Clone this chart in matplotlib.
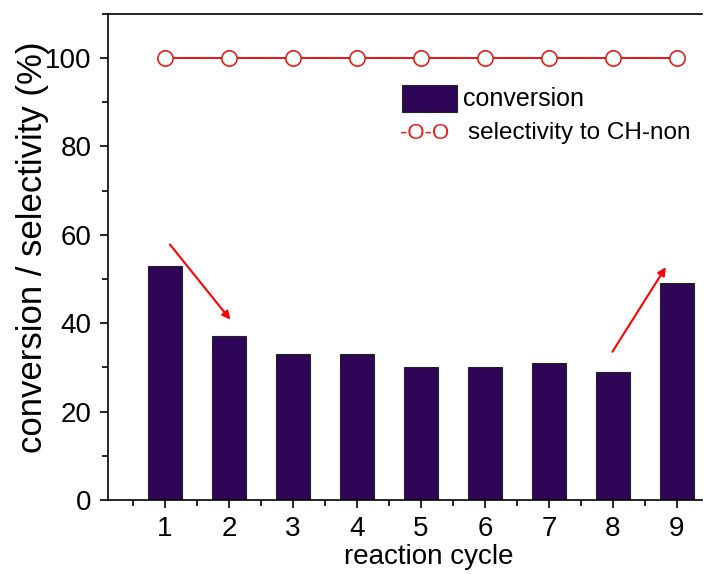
import numpy as np
import matplotlib
matplotlib.use("Agg")
from matplotlib import pyplot as plt
from matplotlib.ticker import MultipleLocator

plt.rcParams['font.family'] = ['Liberation Sans', 'DejaVu Sans']

# data
cycles = [1, 2, 3, 4, 5, 6, 7, 8, 9]
conversion = [53, 37, 33, 33, 30, 30, 31, 29, 49]
selectivity = [100, 100, 100, 100, 100, 100, 100, 100, 100]

BAR_COLOR = '#2f0657'
RED = '#e02020'

fig = plt.figure(figsize=(7.06, 5.74), dpi=100)
ax = fig.add_axes([0.153, 0.129, 0.842, 0.847])

ax.bar(cycles, conversion, width=0.53, color=BAR_COLOR, edgecolor='#222222', linewidth=0.8, zorder=2)
ax.plot(cycles, selectivity, '-o', color=RED, lw=1.5, ms=11, mfc='white', mec=RED, mew=1.2, zorder=3)

# arrows
ax.annotate('', xy=(2.05, 40.3), xytext=(1.05, 58.3),
            arrowprops=dict(arrowstyle='-|>', color='red', lw=1.5, mutation_scale=12))
ax.annotate('', xy=(8.85, 53.2), xytext=(7.97, 33.0),
            arrowprops=dict(arrowstyle='-|>', color='red', lw=1.5, mutation_scale=12))

# legend drawn by hand
ax.add_patch(plt.Rectangle((4.70, 87.8), 0.86, 6.1, facecolor=BAR_COLOR, edgecolor='#222222', lw=0.8, zorder=4))
ax.text(5.65, 90.8, 'conversion', fontsize=18, va='center', ha='left')
ax.text(4.68, 83.0, '-O-O', fontsize=16, va='center', ha='left', color=RED)
ax.text(5.73, 83.0, 'selectivity to CH-non', fontsize=17.5, va='center', ha='left')

ax.set_xlim(0.11, 9.4)
ax.set_ylim(0, 110)
ax.set_xticks(cycles)
ax.set_yticks([0, 20, 40, 60, 80, 100])
ax.xaxis.set_minor_locator(MultipleLocator(0.5))
ax.yaxis.set_minor_locator(MultipleLocator(10))
ax.tick_params(which='both', direction='out', labelsize=20, width=1.2)
ax.tick_params(which='major', length=6)
ax.tick_params(which='minor', length=4)
ax.tick_params(axis='x', pad=5.5)
ax.tick_params(axis='y', pad=6)
ax.spines['right'].set_visible(False)
for s in ['left', 'bottom', 'top']:
    ax.spines[s].set_linewidth(1.2)

ax.set_xlabel('reaction cycle', fontsize=20)
ax.xaxis.set_label_coords(0.539, -0.0905)
ax.set_ylabel('conversion / selectivity (%)', fontsize=25)
ax.yaxis.set_label_coords(-0.1, 0.52)

fig.savefig('out.png', dpi=100)
